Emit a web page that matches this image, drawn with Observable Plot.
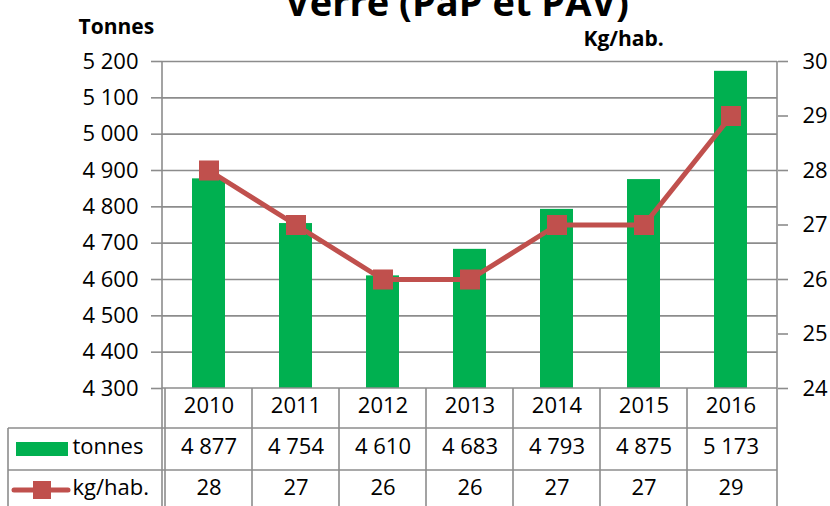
<!DOCTYPE html>
<html>
<head>
<meta charset="utf-8">
<script src="https://cdn.jsdelivr.net/npm/d3@7"></script>
<script src="https://cdn.jsdelivr.net/npm/@observablehq/plot@0.6"></script>
<style>
  html, body { margin: 0; padding: 0; background: #ffffff; }
  #chart svg { display: block; }
</style>
</head>
<body>
<div id="chart"></div>
<script>
// ---- data ----
const title = "Verre (PaP et PAV)";
const leftAxisTitle = "Tonnes";
const rightAxisTitle = "Kg/hab.";
const years = ["2010", "2011", "2012", "2013", "2014", "2015", "2016"];
const tonnes = [4877, 4754, 4610, 4683, 4793, 4875, 5173];
const kgHab = [28, 27, 26, 26, 27, 27, 29];
const tonneTicks = [4300, 4400, 4500, 4600, 4700, 4800, 4900, 5000, 5100, 5200];
const kgTicks = [24, 25, 26, 27, 28, 29, 30];
const seriesLabels = ["tonnes", "kg/hab."];

// ---- helpers ----
const fr = d3.formatLocale({decimal: ",", thousands: "\u00a0", grouping: [3], currency: ["", ""]});
const fmt = fr.format(",d");
const tMin = tonneTicks[0], tMax = tonneTicks[tonneTicks.length - 1];
const kMin = kgTicks[0], kMax = kgTicks[kgTicks.length - 1];
// map the secondary (kg/hab.) axis onto the primary (tonnes) scale
const toT = k => tMin + (k - kMin) * (tMax - tMin) / (kMax - kMin);

const data = years.map((year, i) => ({year, tonnes: tonnes[i], kg: kgHab[i]}));

const GREEN = "#00B050";
const RED = "#C0504D";
const GRID = "#8c8c8c";

// table grid and legend keys drawn with the plot's own x scale and dimensions
function tableLayer(index, scales, values, dims) {
  const x = scales.x;
  const left = dims.marginLeft;
  const right = dims.width - dims.marginRight;
  const top = dims.marginTop;
  const base = dims.height - dims.marginBottom;
  const r1 = base + 40, r2 = r1 + 42, bottom = dims.height + 2;
  const outerLeft = 8;
  const g = d3.create("svg:g");
  const lines = g.append("g").attr("stroke", GRID).attr("stroke-width", 1.6).attr("fill", "none");
  // axis lines (left & right) continuing through the table
  lines.append("line").attr("x1", left).attr("x2", left).attr("y1", top).attr("y2", bottom);
  lines.append("line").attr("x1", right).attr("x2", right).attr("y1", top).attr("y2", bottom);
  // column separators
  years.forEach(yr => {
    const xx = x(yr);
    if (Math.abs(xx - left) > 1) lines.append("line").attr("x1", xx).attr("x2", xx).attr("y1", base).attr("y2", bottom);
  });
  // horizontal table lines
  lines.append("line").attr("x1", left).attr("x2", right).attr("y1", base).attr("y2", base);
  lines.append("line").attr("x1", outerLeft).attr("x2", right).attr("y1", r1).attr("y2", r1);
  lines.append("line").attr("x1", outerLeft).attr("x2", right).attr("y1", r2).attr("y2", r2);
  lines.append("line").attr("x1", outerLeft).attr("x2", outerLeft).attr("y1", r1).attr("y2", bottom);
  // legend keys
  const ry1 = (r1 + r2) / 2;
  g.append("rect").attr("x", 16).attr("y", ry1 - 7).attr("width", 52).attr("height", 14).attr("fill", GREEN);
  const ry2 = (r2 + dims.height + 2) / 2 + 1;
  g.append("line").attr("x1", 14).attr("x2", 68).attr("y1", ry2).attr("y2", ry2)
    .attr("stroke", RED).attr("stroke-width", 5).attr("stroke-linecap", "round");
  g.append("rect").attr("x", 33).attr("y", ry2 - 9).attr("width", 18).attr("height", 18).attr("fill", RED);
  return g.node();
}

const chart = Plot.plot({
  width: 830,
  height: 506,
  marginLeft: 162,
  marginRight: 53,
  marginTop: 61,
  marginBottom: 118,
  style: {fontFamily: "'Open Sans', sans-serif", fontSize: "22px", color: "black", background: "white", overflow: "visible"},
  x: {type: "band", domain: years, padding: 0, axis: null},
  y: {domain: [tMin, tMax], axis: null},
  marks: [
    // horizontal gridlines
    Plot.ruleY(tonneTicks.slice(1), {stroke: GRID, strokeWidth: 1.6}),
    // left axis
    Plot.axisY({anchor: "left", label: null, ticks: tonneTicks, tickFormat: fmt, tickSize: 11, tickPadding: 13, stroke: GRID, strokeWidth: 1.6, fill: "black", fontSize: 22}),
    // right axis (kg/hab.)
    Plot.axisY({anchor: "right", label: null, ticks: kgTicks.map(toT), tickFormat: t => String(Math.round(kMin + (t - tMin) * (kMax - kMin) / (tMax - tMin))), tickSize: 10, tickPadding: 15, stroke: GRID, strokeWidth: 1.6, fill: "black", fontSize: 22}),
    // bars
    Plot.barY(data, {x: "year", y1: tMin, y2: "tonnes", fill: GREEN, insetLeft: 27, insetRight: 27}),
    // line + markers
    Plot.line(data, {x: "year", y: d => toT(d.kg), stroke: RED, strokeWidth: 5}),
    Plot.dot(data, {x: "year", y: d => toT(d.kg), symbol: "square", r: 11.3, fill: RED, stroke: null}),
    // table
    tableLayer,
    Plot.text(data, {x: "year", frameAnchor: "bottom", dy: 24, text: "year", fontSize: 22}),
    Plot.text(data, {x: "year", frameAnchor: "bottom", dy: 65, text: d => fmt(d.tonnes), fontSize: 22}),
    Plot.text(data, {x: "year", frameAnchor: "bottom", dy: 106, text: d => String(d.kg), fontSize: 22}),
    Plot.text([seriesLabels[0]], {frameAnchor: "bottom-left", dx: -90, dy: 65, textAnchor: "start", text: d => d, fontSize: 22}),
    Plot.text([seriesLabels[1]], {frameAnchor: "bottom-left", dx: -90, dy: 106, textAnchor: "start", text: d => d, fontSize: 22}),
    // titles
    Plot.text([title], {frameAnchor: "top", dx: -13, dy: -46, lineAnchor: "bottom", text: d => d, fontSize: 38, fontWeight: "bold"}),
    Plot.text([leftAxisTitle], {frameAnchor: "top-left", dx: -84, dy: -28, lineAnchor: "bottom", textAnchor: "start", text: d => d, fontSize: 21, fontWeight: "bold"}),
    Plot.text([rightAxisTitle], {frameAnchor: "top-right", dx: -194, dy: -16, lineAnchor: "bottom", textAnchor: "start", text: d => d, fontSize: 21, fontWeight: "bold"})
  ]
});
document.getElementById("chart").append(chart);
</script>
</body>
</html>
